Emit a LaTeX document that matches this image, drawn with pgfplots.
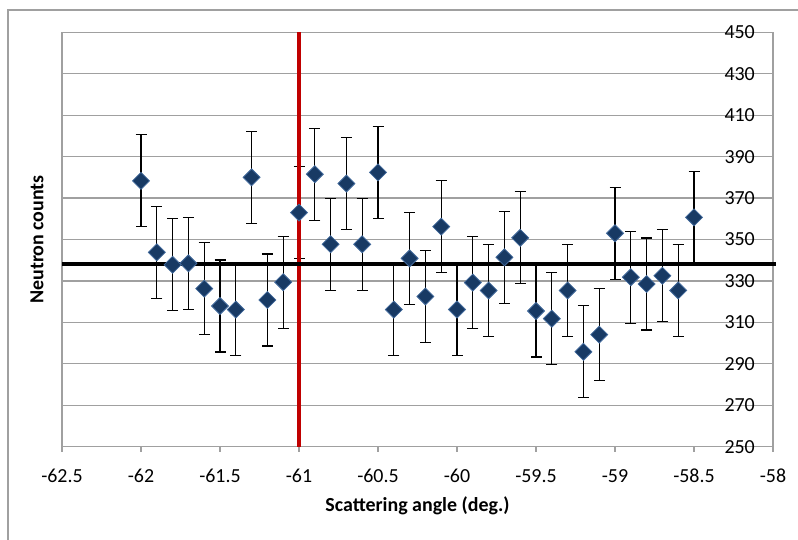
\documentclass[border=0pt]{standalone}
\usepackage{pgfplots}
\pgfplotsset{compat=1.18}
\usepackage{pgfplotstable}
\usepackage{fontspec}
\setmainfont{Carlito}
\definecolor{gridgray}{RGB}{160,160,160}
\definecolor{markfill}{RGB}{24,58,100}
\definecolor{markedge}{RGB}{65,105,155}
\definecolor{redline}{RGB}{192,0,0}
\pgfplotstableread{
x y e
-62.0 378.3 22.2
-61.9 343.8 22.2
-61.8 337.8 22.2
-61.7 338.5 22.2
-61.6 326.3 22.2
-61.5 317.9 22.2
-61.4 316.2 22.2
-61.3 380.0 22.2
-61.2 320.8 22.2
-61.1 329.4 22.2
-61.0 363.0 22.2
-60.9 381.5 22.2
-60.8 347.7 22.2
-60.7 377.0 22.2
-60.6 347.7 22.2
-60.5 382.4 22.2
-60.4 316.2 22.2
-60.3 340.9 22.2
-60.2 322.5 22.2
-60.1 356.2 22.2
-60.0 316.2 22.2
-59.9 329.2 22.2
-59.8 325.4 22.2
-59.7 341.4 22.2
-59.6 350.8 22.2
-59.5 315.5 22.2
-59.4 311.8 22.2
-59.3 325.4 22.2
-59.2 295.8 22.2
-59.1 304.1 22.2
-59.0 353.0 22.2
-58.9 331.8 22.2
-58.8 328.5 22.2
-58.7 332.5 22.2
-58.6 325.4 22.2
-58.5 360.7 22.2
}\datatable
\begin{document}
\begin{tikzpicture}
\path[use as bounding box] (0,0) rectangle (798bp,540bp);
\draw[gridgray, line width=1.2bp] (8bp,0) -- (8bp,530bp) -- (798bp,530bp);
\begin{axis}[
  at={(62bp,93.3bp)}, anchor=south west,
  scale only axis, width=711bp, height=414.4bp,
  xmin=-62.5, xmax=-58, ymin=250, ymax=450,
  xtick={-62.5,-62,-61.5,-61,-60.5,-60,-59.5,-59,-58.5,-58},
  ytick={250,270,290,310,330,350,370,390,410,430,450},
  ymajorgrids, grid style={gridgray, line width=1.2bp},
  axis line style={gridgray, line width=1.2bp},
  tick align=outside, major tick length=5bp,
  tick style={gridgray, line width=1.2bp},
  ytick style={draw=none},
  xtick pos=bottom, ytick pos=right, yticklabel pos=right,
  yticklabel style={anchor=east, xshift=-23bp, inner sep=0pt},
  xticklabel style={anchor=center, yshift=-24bp, inner sep=0pt},
  /pgf/number format/assume math mode=true,
  ticklabel style={font=\fontsize{20}{24}\selectfont},
  xlabel={Scattering angle (deg.)},
  ylabel={Neutron counts},
  every axis x label/.style={at={([yshift=-59bp]rel axis cs:0.5,0)}, anchor=center, font=\bfseries\fontsize{20}{24}\selectfont},
  every axis y label/.style={at={([xshift=-25bp]rel axis cs:0,0.5)}, anchor=center, rotate=90, font=\bfseries\fontsize{20}{24}\selectfont},
  clip=false,
]
\addplot[only marks, mark=none,
  error bars/.cd, y dir=both, y explicit,
  error bar style={black, line width=1.2bp},
  error mark options={rotate=90, mark size=5.5bp, black, line width=1.2bp}]
  table[x=x, y=y, y error=e] {\datatable};
\addplot[redline, line width=4.5bp] coordinates {(-61,250) (-61,450)};
\addplot[black, line width=4bp] coordinates {(-62.5,338.4) (-57.98,338.4)};
\addplot[only marks, mark=square*, mark size=6bp,
  mark options={rotate=45, fill=markfill, draw=markedge, line width=0.8bp}]
  table[x=x, y=y] {\datatable};
\end{axis}
\end{tikzpicture}
\end{document}
